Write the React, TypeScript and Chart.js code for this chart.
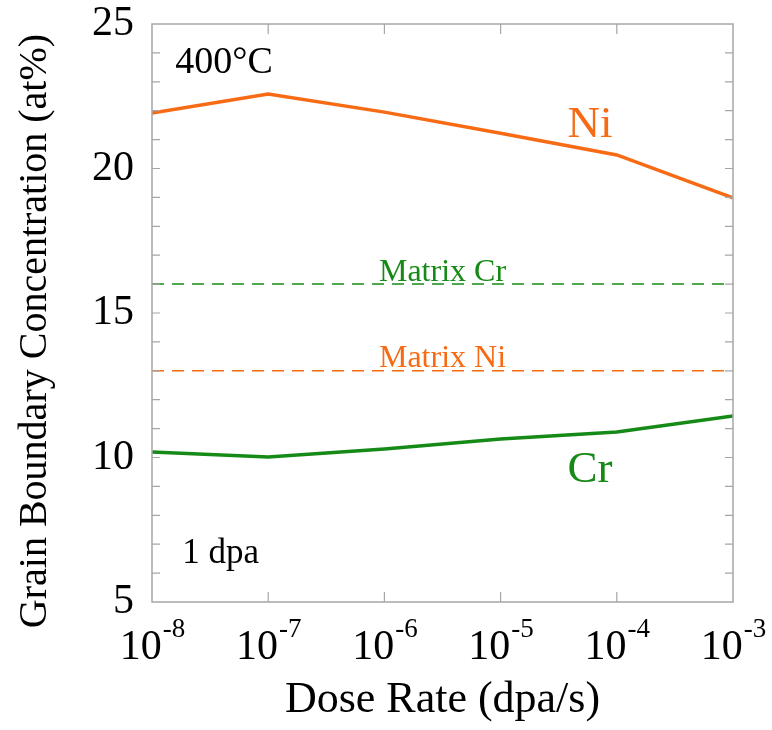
import React, { useEffect, useRef } from "react";
import { Chart, registerables } from "chart.js";

Chart.register(...registerables);

const doseRates = [1e-8, 1e-7, 1e-6, 1e-5, 1e-4, 1e-3];
const niGB = [21.92, 22.58, 21.95, 21.22, 20.47, 18.98];
const crGB = [10.19, 10.02, 10.29, 10.64, 10.88, 11.44];
const matrixCrValue = 16;
const matrixNiValue = 13;
const xDecades = [-8, -7, -6, -5, -4, -3];
const yLabels = [5, 10, 15, 20, 25];

const ORANGE = "#F76B15";
const GREEN = "#168A16";
const SERIF = "'Liberation Serif', 'Times New Roman', serif";

const decorPlugin = {
  id: "decor",
  afterDraw(chart: any) {
    const { ctx, chartArea } = chart;
    const xs = chart.scales.x;
    const ys = chart.scales.y;
    const { left, right, top, bottom } = chartArea;
    ctx.save();
    // frame
    ctx.strokeStyle = "#a6a6a6";
    ctx.lineWidth = 1.5;
    ctx.strokeRect(left, top, right - left, bottom - top);
    // y minor/major ticks (inward, both sides)
    ctx.lineWidth = 1.2;
    for (let v = 6; v < 25; v++) {
      const py = ys.getPixelForValue(v);
      ctx.beginPath();
      ctx.moveTo(left, py);
      ctx.lineTo(left + 8, py);
      ctx.moveTo(right, py);
      ctx.lineTo(right - 8, py);
      ctx.stroke();
    }
    // x decade ticks (inward, top & bottom)
    for (let i = 1; i < xDecades.length - 1; i++) {
      const px = xs.getPixelForValue(Math.pow(10, xDecades[i]));
      ctx.beginPath();
      ctx.moveTo(px, top);
      ctx.lineTo(px, top + 10);
      ctx.moveTo(px, bottom);
      ctx.lineTo(px, bottom - 10);
      ctx.stroke();
    }
    // x tick labels with superscripts
    ctx.fillStyle = "#000";
    ctx.textBaseline = "alphabetic";
    ctx.textAlign = "left";
    const baseFont = `42px ${SERIF}`;
    const supFont = `27px ${SERIF}`;
    for (const d of xDecades) {
      const px = xs.getPixelForValue(Math.pow(10, d));
      ctx.font = baseFont;
      const w1 = ctx.measureText("10").width;
      ctx.font = supFont;
      const sup = String(d);
      const w2 = ctx.measureText(sup).width;
      const x0 = px - (w1 + w2) / 2;
      ctx.font = baseFont;
      ctx.fillText("10", x0, bottom + 57);
      ctx.font = supFont;
      ctx.fillText(sup, x0 + w1 + 1, bottom + 35);
    }
    // axis titles
    ctx.font = `44px ${SERIF}`;
    ctx.textAlign = "center";
    ctx.fillText("Dose Rate (dpa/s)", (left + right) / 2, 712);
    ctx.save();
    ctx.translate(46, (top + bottom) / 2 + 18);
    ctx.rotate(-Math.PI / 2);
    ctx.font = `40px ${SERIF}`;
    ctx.fillText("Grain Boundary Concentration (at%)", 0, 0);
    ctx.restore();
    // annotations
    const X = (lg: number) => xs.getPixelForValue(Math.pow(10, lg));
    const Y = (v: number) => ys.getPixelForValue(v);
    ctx.textAlign = "left";
    ctx.fillStyle = "#000";
    ctx.font = `38px ${SERIF}`;
    ctx.fillText("400°C", X(-7.8), Y(23.3));
    ctx.font = `35px ${SERIF}`;
    ctx.fillText("1 dpa", X(-7.74), Y(6.35));
    ctx.textAlign = "center";
    ctx.font = `45px ${SERIF}`;
    ctx.fillStyle = ORANGE;
    ctx.fillText("Ni", X(-4.23), Y(21.09));
    ctx.fillStyle = GREEN;
    ctx.fillText("Cr", X(-4.23), Y(9.15));
    ctx.font = `32px ${SERIF}`;
    ctx.fillStyle = GREEN;
    ctx.fillText("Matrix Cr", X(-5.5), Y(matrixCrValue + 0.12));
    ctx.fillStyle = ORANGE;
    ctx.fillText("Matrix Ni", X(-5.5), Y(matrixNiValue + 0.14));
    ctx.restore();
  },
};

export default function App() {
  const ref = useRef<HTMLCanvasElement | null>(null);
  useEffect(() => {
    document.body.style.margin = "0";
    const canvas = ref.current;
    if (!canvas) return;
    const chart = new Chart(canvas, {
      type: "line",
      data: {
        datasets: [
          {
            label: "Ni",
            data: doseRates.map((x, i) => ({ x, y: niGB[i] })),
            borderColor: ORANGE,
            borderWidth: 3.5,
            pointRadius: 0,
            tension: 0,
          },
          {
            label: "Cr",
            data: doseRates.map((x, i) => ({ x, y: crGB[i] })),
            borderColor: GREEN,
            borderWidth: 3.5,
            pointRadius: 0,
            tension: 0,
          },
          {
            label: "Matrix Cr",
            data: doseRates.map((x) => ({ x, y: matrixCrValue })),
            borderColor: GREEN,
            borderWidth: 1.5,
            borderDash: [12, 8],
            pointRadius: 0,
          },
          {
            label: "Matrix Ni",
            data: doseRates.map((x) => ({ x, y: matrixNiValue })),
            borderColor: ORANGE,
            borderWidth: 1.5,
            borderDash: [12, 8],
            pointRadius: 0,
          },
        ],
      },
      options: {
        animation: false,
        responsive: false,
        maintainAspectRatio: false,
        layout: { padding: { left: 0, right: 39, top: 24, bottom: 0 } },
        plugins: {
          legend: { display: false },
          tooltip: { enabled: false },
        },
        scales: {
          x: {
            type: "logarithmic",
            min: 1e-8,
            max: 1e-3,
            grid: { display: false, drawTicks: false },
            border: { display: false },
            ticks: { display: false },
            afterBuildTicks: (scale: any) => {
              scale.ticks = xDecades.map((d) => ({ value: Math.pow(10, d) }));
            },
            afterFit: (scale: any) => {
              scale.height = 128;
              scale.paddingLeft = 0;
              scale.paddingRight = 0;
            },
          },
          y: {
            type: "linear",
            min: 5,
            max: 25,
            grid: { display: false, drawTicks: false },
            border: { display: false },
            afterBuildTicks: (scale: any) => {
              scale.ticks = yLabels.map((v) => ({ value: v }));
            },
            ticks: {
              padding: 18,
              color: "#000",
              font: { family: SERIF, size: 42 },
            },
            afterFit: (scale: any) => {
              scale.width = 152;
              scale.paddingTop = 0;
              scale.paddingBottom = 0;
            },
          },
        },
      },
      plugins: [decorPlugin],
    });
    return () => chart.destroy();
  }, []);
  return (
    <div style={{ width: 772, height: 730 }}>
      <canvas ref={ref} width={772} height={730} style={{ display: "block" }} />
    </div>
  );
}
